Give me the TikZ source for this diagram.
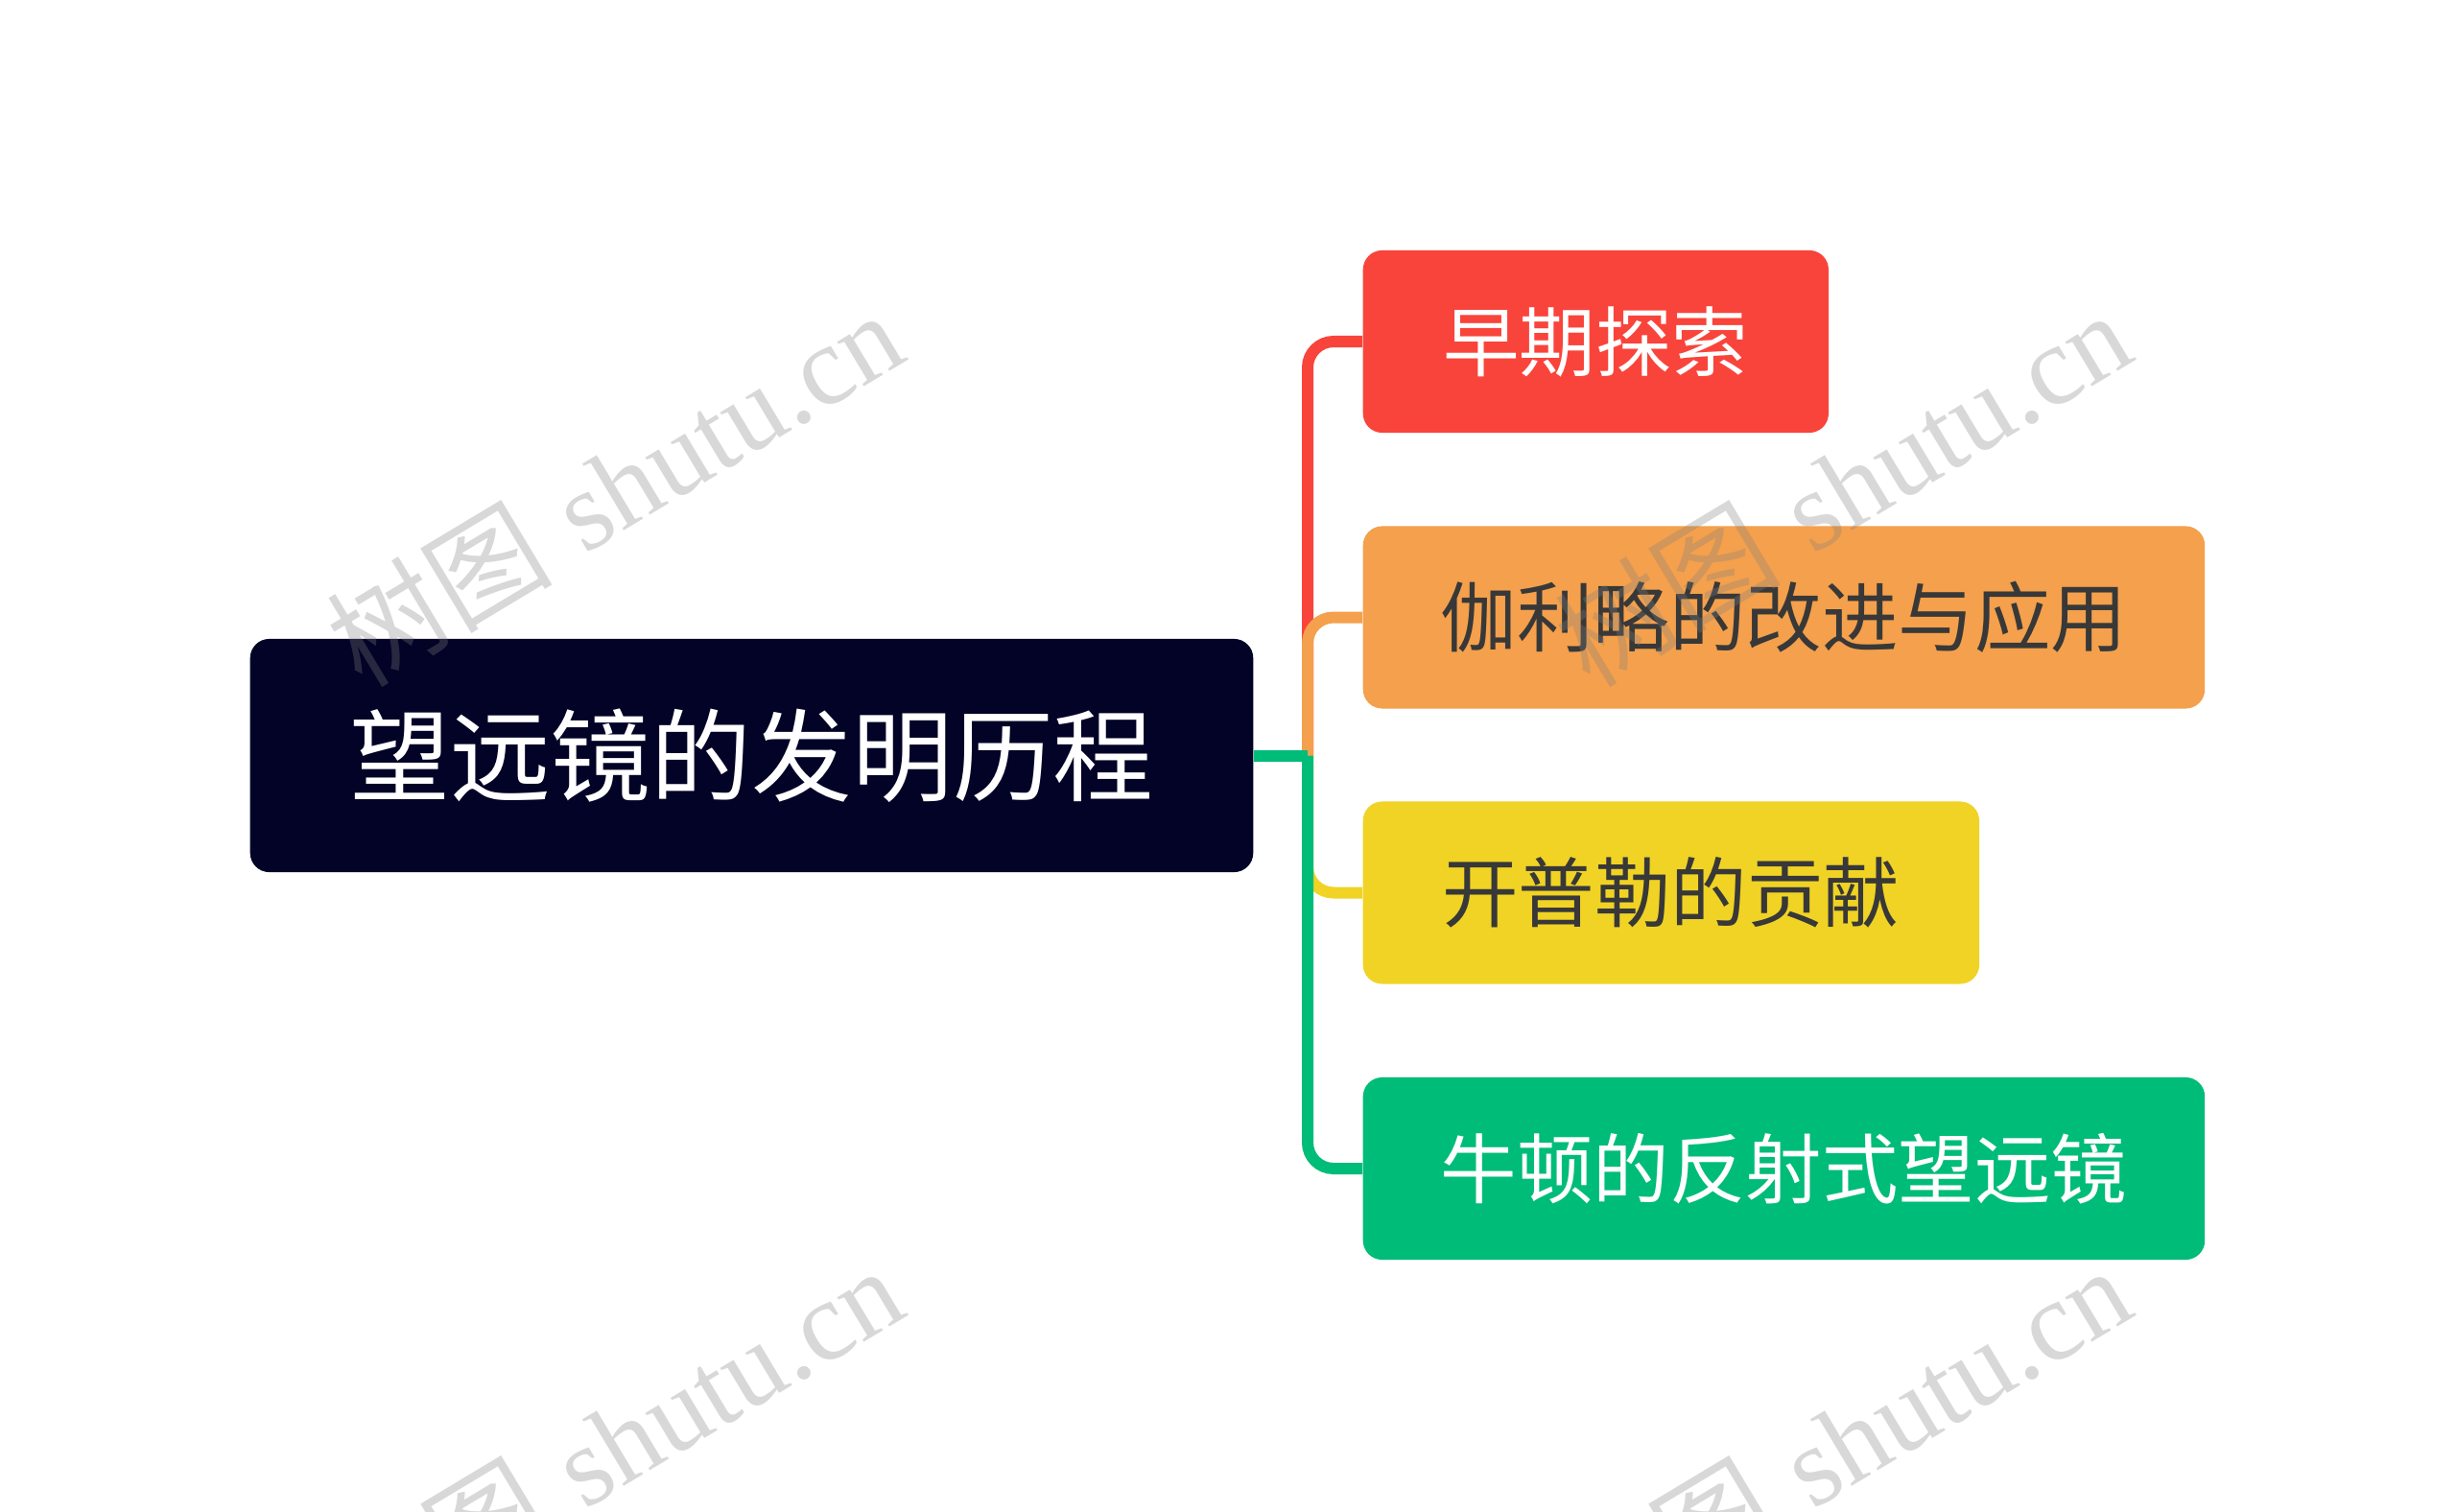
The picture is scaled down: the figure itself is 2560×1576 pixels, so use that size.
\documentclass[tikz,border=0pt]{standalone}
\usepackage{fontspec}
\newfontfamily\cjk{Noto Sans CJK SC}
\newfontfamily\wmlatin{Liberation Serif}
\definecolor{rootc}{HTML}{020326}
\definecolor{redc}{HTML}{F9443B}
\definecolor{orangec}{HTML}{F4A04C}
\definecolor{yellowc}{HTML}{F0D324}
\definecolor{greenc}{HTML}{00BC79}
\definecolor{darktext}{HTML}{383838}
\tikzset{
  box/.style={rounded corners=0.2cm, inner sep=0pt, anchor=west, minimum height=1.9cm,
    font=\cjk\fontsize{22.6}{26}\selectfont},
  rootbox/.style={rounded corners=0.2cm, inner sep=0pt, fill=rootc, text=white,
    minimum width=10.45cm, minimum height=2.43cm, font=\cjk\fontsize{29.8}{34}\selectfont},
  branch/.style={line width=0.12cm, rounded corners=0.27cm},
  wm/.style={text=black!50, opacity=0.3, rotate=31, font=\fontsize{33.5}{38}\selectfont}
}
\begin{document}
\begin{tikzpicture}[x=0.01cm, y=-0.01cm]
\path[use as bounding box, fill=white] (0,0) rectangle (2560,1576);
% nodes
\node[rootbox] (root) at (783.5,787.5) {望远镜的发明历程};
\node[box, fill=redc, text=white, minimum width=4.85cm] (n1) at (1420,356) {早期探索};
\node[box, fill=orangec, text=darktext, minimum width=8.77cm] (n2) at (1420,643.5) {伽利略的改进与应用};
\node[box, fill=yellowc, text=darktext, minimum width=6.42cm] (n3) at (1420,930.5) {开普勒的贡献};
\node[box, fill=greenc, text=white, minimum width=8.77cm] (n4) at (1420,1218) {牛顿的反射式望远镜};
% connectors
\coordinate (j) at (1363,787.5);
\draw[branch, redc] (j) |- (n1.west);
\draw[branch, orangec] (j) |- (n2.west);
\draw[branch, yellowc] (j) |- (n3.west);
\draw[branch, greenc] (j) |- (n4.west);
\draw[line width=0.12cm, greenc] (root.east) -- (j);
% watermarks
\begin{scope}
\clip (0,0) rectangle (2560,1576);
\node[wm] (w1) at (640,508) {{\cjk 树图} {\wmlatin shutu.cn}};
\node[wm] (w2) at (1920,508) {{\cjk 树图} {\wmlatin shutu.cn}};
\node[wm] (w3) at (640,1504) {{\cjk 树图} {\wmlatin shutu.cn}};
\node[wm] (w4) at (1920,1504) {{\cjk 树图} {\wmlatin shutu.cn}};
\end{scope}
\end{tikzpicture}
\end{document}
